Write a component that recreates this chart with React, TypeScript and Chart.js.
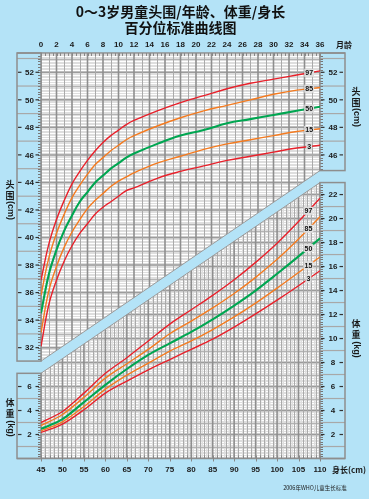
import React, { useEffect, useRef } from 'react';
import { Chart, registerables } from 'chart.js';

Chart.register(...registerables);

const TITLE_LINES = ['0～3岁男童头围/年龄、体重/身长', '百分位标准曲线图'];
const PERCENTILES = ['97', '85', '50', '15', '3'];

// Head circumference (cm) by age (months)
const AGE_MONTHS = [0, 1, 2, 3, 4, 5, 6, 7, 8, 9, 10, 11, 12, 15, 18, 21, 24, 27, 30, 33, 36];
const HC_P97 = [36.9, 39.5, 41.3, 42.7, 43.9, 44.8, 45.6, 46.3, 46.9, 47.4, 47.8, 48.2, 48.5, 49.2, 49.8, 50.3, 50.8, 51.2, 51.5, 51.8, 52.1];
const HC_P85 = [35.8, 38.5, 40.3, 41.7, 42.9, 43.8, 44.6, 45.3, 45.8, 46.3, 46.7, 47.1, 47.4, 48.1, 48.7, 49.2, 49.6, 50.0, 50.4, 50.7, 50.9];
const HC_P50 = [34.5, 37.3, 39.1, 40.5, 41.6, 42.6, 43.3, 44.0, 44.5, 45.0, 45.4, 45.8, 46.1, 46.8, 47.4, 47.8, 48.3, 48.6, 48.9, 49.2, 49.5];
const HC_P15 = [33.1, 36.1, 37.9, 39.3, 40.4, 41.3, 42.1, 42.7, 43.2, 43.7, 44.1, 44.4, 44.7, 45.4, 45.9, 46.4, 46.8, 47.1, 47.4, 47.7, 47.9];
const HC_P3 = [32.1, 35.1, 36.9, 38.3, 39.4, 40.3, 41.0, 41.7, 42.2, 42.6, 43.0, 43.4, 43.6, 44.3, 44.8, 45.2, 45.6, 45.9, 46.2, 46.5, 46.7];

// Weight (kg) by length (cm)
const LENGTH_CM = [45, 50, 55, 60, 65, 70, 75, 80, 85, 90, 95, 100, 105, 110];
const WL_P97 = [3.0, 3.92, 5.45, 7.1, 8.4, 9.8, 11.2, 12.4, 13.6, 14.9, 16.35, 17.95, 19.75, 21.7];
const WL_P85 = [2.75, 3.67, 5.1, 6.7, 7.9, 9.1, 10.4, 11.45, 12.55, 13.75, 15.1, 16.6, 18.3, 20.15];
const WL_P50 = [2.47, 3.28, 4.7, 6.14, 7.46, 8.64, 9.6, 10.55, 11.6, 12.75, 14.0, 15.4, 16.85, 18.35];
const WL_P15 = [2.3, 3.06, 4.33, 5.78, 6.95, 7.95, 8.95, 9.8, 10.75, 11.8, 12.95, 14.2, 15.5, 16.8];
const WL_P3 = [2.17, 2.87, 4.06, 5.45, 6.45, 7.39, 8.25, 9.1, 9.95, 10.95, 12.05, 13.2, 14.4, 15.65];

// Side tick labels
const HEAD_TICKS_LEFT = [32, 34, 36, 38, 40, 42, 44, 46, 48, 50, 52];
const HEAD_TICKS_RIGHT = [46, 48, 50, 52];
const WEIGHT_TICKS_LEFT = [2, 4, 6];
const WEIGHT_TICKS_RIGHT = [2, 4, 6, 8, 10, 12, 14, 16, 18, 20, 22];

// Separator band (kg on weight scale) at 45 cm and 110 cm
const BAND_LOW = [7.1, 23.0];
const BAND_HIGH = [8.12, 24.0];

// Label anchors
const HEAD_LABEL_AGE = 34.6;
const WEIGHT_LABEL_LEN = 107.3;

const PAGE_BG = '#b4e3f7';
const GRID_BG = '#dedede';
const FRAME = '#8e8e8e';
const RED = '#e8212b';
const ORANGE = '#f47b20';
const GREEN = '#00a651';
const NUM_FONT = '"Liberation Sans", Arial, sans-serif';
const CJK_FONT = '"Noto Sans CJK SC", sans-serif';

const HEAD_SERIES = [HC_P97, HC_P85, HC_P50, HC_P15, HC_P3];
const WEIGHT_SERIES = [WL_P97, WL_P85, WL_P50, WL_P15, WL_P3];
const SERIES_COLORS = [RED, ORANGE, GREEN, ORANGE, RED];
const SERIES_WIDTHS = [1.4, 1.4, 2.1, 1.4, 1.4];

function interp(xs: number[], ys: number[], x: number) {
  for (let i = 0; i < xs.length - 1; i++) {
    if (x >= xs[i] && x <= xs[i + 1]) {
      const t = (x - xs[i]) / (xs[i + 1] - xs[i]);
      return ys[i] + t * (ys[i + 1] - ys[i]);
    }
  }
  return ys[ys.length - 1];
}

function hline(ctx: CanvasRenderingContext2D, x1: number, x2: number, y: number) {
  ctx.beginPath();
  ctx.moveTo(x1, y);
  ctx.lineTo(x2, y);
  ctx.stroke();
}
function vline(ctx: CanvasRenderingContext2D, x: number, y1: number, y2: number) {
  ctx.beginPath();
  ctx.moveTo(x, y1);
  ctx.lineTo(x, y2);
  ctx.stroke();
}

function drawGrid(
  ctx: CanvasRenderingContext2D,
  a: any,
  xs: any,
  xFrom: number,
  xTo: number,
  xMajorEvery: number,
  ys: any,
  dashed: boolean
) {
  ctx.fillStyle = GRID_BG;
  ctx.fillRect(a.left, a.top, a.right - a.left, a.bottom - a.top);
  const yMin = ys.min;
  const yMax = ys.max;
  // fine white lines every 0.2 unit
  ctx.strokeStyle = '#ffffff';
  ctx.lineWidth = 1;
  if (dashed) ctx.setLineDash([3, 1.5]);
  for (let i = Math.ceil(yMin * 5); i <= Math.floor(yMax * 5); i++) {
    if (i % 5 === 0) continue;
    const y = Math.round(ys.getPixelForValue(i / 5)) + 0.5;
    hline(ctx, a.left, a.right, y);
  }
  ctx.setLineDash([]);
  // horizontal lines
  for (let v = Math.ceil(yMin); v <= Math.floor(yMax); v++) {
    const y = ys.getPixelForValue(v);
    const major = v % 2 === 0;
    ctx.strokeStyle = major ? '#9c9c9c' : '#b4b4b4';
    ctx.lineWidth = major ? 1.5 : 1;
    hline(ctx, a.left, a.right, major ? y : Math.round(y) + 0.5);
  }
  // vertical lines
  for (let v = xFrom; v <= xTo; v += 1) {
    const x = xs.getPixelForValue(v);
    const major = v % xMajorEvery === 0;
    ctx.strokeStyle = major ? '#8e8e8e' : '#aaaaaa';
    ctx.lineWidth = major ? 1.6 : 1;
    vline(ctx, major ? x : Math.round(x) + 0.5, a.top, a.bottom);
  }
}

const backgroundPlugin = {
  id: 'growthBackground',
  beforeDraw(chart: any) {
    const { ctx, chartArea: a, scales } = chart;
    const xM = scales.xM;
    const xL = scales.xL;
    const yH = scales.yH;
    const yW = scales.yW;
    ctx.save();
    ctx.fillStyle = PAGE_BG;
    ctx.fillRect(0, 0, chart.width, chart.height);

    const highL = yW.getPixelForValue(BAND_HIGH[0]);
    const highR = yW.getPixelForValue(BAND_HIGH[1]);
    const lowL = yW.getPixelForValue(BAND_LOW[0]);
    const lowR = yW.getPixelForValue(BAND_LOW[1]);

    // upper (head circumference) region
    ctx.save();
    ctx.beginPath();
    ctx.moveTo(a.left, a.top);
    ctx.lineTo(a.right, a.top);
    ctx.lineTo(a.right, highR);
    ctx.lineTo(a.left, highL);
    ctx.closePath();
    ctx.clip();
    drawGrid(ctx, a, xM, 0, 36, 2, yH, false);
    ctx.restore();

    // lower (weight) region
    ctx.save();
    ctx.beginPath();
    ctx.moveTo(a.left, lowL);
    ctx.lineTo(a.right, lowR);
    ctx.lineTo(a.right, a.bottom);
    ctx.lineTo(a.left, a.bottom);
    ctx.closePath();
    ctx.clip();
    drawGrid(ctx, a, xL, 45, 110, 5, yW, true);
    ctx.restore();

    // band edges
    ctx.strokeStyle = '#9a9a9a';
    ctx.lineWidth = 1;
    ctx.beginPath();
    ctx.moveTo(a.left, highL);
    ctx.lineTo(a.right, highR);
    ctx.moveTo(a.left, lowL);
    ctx.lineTo(a.right, lowR);
    ctx.stroke();

    // side boxes
    const LB = [17, a.left];
    const RB = [a.right, 345];
    const boxes = [
      { x1: LB[0], x2: LB[1], y1: a.top, y2: highL, s: yH, ticks: HEAD_TICKS_LEFT, rulerX: a.left - 3 },
      { x1: LB[0], x2: LB[1], y1: lowL, y2: a.bottom, s: yW, ticks: WEIGHT_TICKS_LEFT, rulerX: a.left - 3 },
      { x1: RB[0], x2: RB[1], y1: a.top, y2: highR, s: yH, ticks: HEAD_TICKS_RIGHT, rulerX: a.right },
      { x1: RB[0], x2: RB[1], y1: lowR, y2: a.bottom, s: yW, ticks: WEIGHT_TICKS_RIGHT, rulerX: a.right },
    ];
    for (const b of boxes) {
      ctx.strokeStyle = '#a8a8a8';
      ctx.lineWidth = 1.2;
      for (let v = Math.ceil(b.s.min); v <= Math.floor(b.s.max); v++) {
        if (v % 2 === 0) continue;
        const y = b.s.getPixelForValue(v);
        if (y < b.y1 + 3 || y > b.y2 - 3) continue;
        hline(ctx, b.x1, b.x2, y);
      }
      ctx.strokeStyle = '#777';
      ctx.lineWidth = 1;
      for (let i = Math.ceil(b.s.min * 5); i <= Math.floor(b.s.max * 5); i++) {
        const y = Math.round(b.s.getPixelForValue(i / 5)) + 0.5;
        if (y < b.y1 + 1 || y > b.y2 - 1) continue;
        hline(ctx, b.rulerX, b.rulerX + 3, y);
      }
      ctx.strokeStyle = FRAME;
      ctx.lineWidth = 1.5;
      ctx.strokeRect(b.x1, b.y1, b.x2 - b.x1, b.y2 - b.y1);
      const cx = (b.x1 + b.x2) / 2;
      ctx.font = `bold 8px ${NUM_FONT}`;
      ctx.fillStyle = '#1a1a1a';
      ctx.textAlign = 'center';
      ctx.textBaseline = 'middle';
      for (const t of b.ticks) {
        const y = b.s.getPixelForValue(t);
        ctx.fillText(String(t), cx + 0.5, y + 0.5);
        ctx.strokeStyle = '#333';
        ctx.lineWidth = 1.2;
        hline(ctx, b.x1 + 1, b.x1 + 4.5, y);
        hline(ctx, b.x2 - 5.5, b.x2 - 2, y);
      }
    }

    // outer plot edges
    ctx.strokeStyle = FRAME;
    ctx.lineWidth = 1.5;
    hline(ctx, a.left - 24, a.right + 25, a.top);
    hline(ctx, a.left - 24, a.right + 25, a.bottom);
    ctx.strokeStyle = '#888';
    ctx.lineWidth = 1;
    for (let m = 0; m <= 72; m++) {
      const x = Math.round(xM.getPixelForValue(m / 2)) + 0.5;
      vline(ctx, x, a.top, a.top + 3);
    }
    for (let l = 45; l <= 110; l++) {
      const x = Math.round(xL.getPixelForValue(l)) + 0.5;
      vline(ctx, x, a.bottom - 3, a.bottom + (l % 5 === 0 ? 3 : 0));
    }

    // vertical axis titles
    const vtitle = (x: number, y: number, c1: string, c2: string, unit: string) => {
      ctx.fillStyle = '#1a1a1a';
      ctx.font = `bold 9px ${CJK_FONT}`;
      ctx.textAlign = 'center';
      ctx.textBaseline = 'middle';
      ctx.fillText(c1, x, y);
      ctx.fillText(c2, x, y + 10.5);
      ctx.save();
      ctx.translate(x, y + 25.5);
      ctx.rotate(Math.PI / 2);
      ctx.font = `bold 9px ${NUM_FONT}`;
      ctx.fillText(unit, 0, 0);
      ctx.restore();
    };
    vtitle(10, 185, '头', '围', '(cm)');
    vtitle(10, 403, '体', '重', '(kg)');
    vtitle(356, 92, '头', '围', '(cm)');
    vtitle(356, 324, '体', '重', '(kg)');

    ctx.fillStyle = '#1a1a1a';
    ctx.textBaseline = 'middle';
    ctx.textAlign = 'left';
    ctx.font = `bold 8px ${CJK_FONT}`;
    ctx.fillText('月龄', a.right + 16, xM.bottom - 8);
    ctx.fillText('身长(cm)', a.right + 12, xL.top + 11.5);
    ctx.font = `5.5px ${CJK_FONT}`;
    ctx.textAlign = 'center';
    ctx.fillText('2006年WHO儿童生长标准', 315, 488);
    ctx.restore();
  },
  afterDatasetsDraw(chart: any) {
    const { ctx, scales } = chart;
    ctx.save();
    ctx.font = `bold 7px ${NUM_FONT}`;
    ctx.textAlign = 'center';
    ctx.textBaseline = 'middle';
    const draw = (x: number, y: number, txt: string) => {
      const w = ctx.measureText(txt).width + 2;
      ctx.fillStyle = GRID_BG;
      ctx.fillRect(x - w / 2, y - 4, w, 8);
      ctx.fillStyle = '#111';
      ctx.fillText(txt, x, y + 0.5);
    };
    PERCENTILES.forEach((p, i) => {
      draw(
        scales.xM.getPixelForValue(HEAD_LABEL_AGE),
        scales.yH.getPixelForValue(interp(AGE_MONTHS, HEAD_SERIES[i], HEAD_LABEL_AGE)),
        p
      );
      draw(
        scales.xL.getPixelForValue(WEIGHT_LABEL_LEN),
        scales.yW.getPixelForValue(interp(LENGTH_CM, WEIGHT_SERIES[i], WEIGHT_LABEL_LEN)),
        p
      );
    });
    ctx.restore();
  },
};

export default function App() {
  const ref = useRef<HTMLCanvasElement | null>(null);
  useEffect(() => {
    if (!ref.current) return;
    const datasets: any[] = [];
    PERCENTILES.forEach((p, i) => {
      datasets.push({
        label: `头围 P${p}`,
        data: AGE_MONTHS.map((m, j) => ({ x: m, y: HEAD_SERIES[i][j] })),
        xAxisID: 'xM',
        yAxisID: 'yH',
        borderColor: SERIES_COLORS[i],
        borderWidth: SERIES_WIDTHS[i],
        pointRadius: 0,
        fill: false,
        tension: 0.4,
      });
    });
    PERCENTILES.forEach((p, i) => {
      datasets.push({
        label: `体重 P${p}`,
        data: LENGTH_CM.map((l, j) => ({ x: l, y: WEIGHT_SERIES[i][j] })),
        xAxisID: 'xL',
        yAxisID: 'yW',
        borderColor: SERIES_COLORS[i],
        borderWidth: SERIES_WIDTHS[i],
        pointRadius: 0,
        fill: false,
        cubicInterpolationMode: 'monotone',
      });
    });
    const tickFont = { size: 8, weight: 'bold' as const, family: NUM_FONT };
    const chart = new Chart(ref.current, {
      type: 'line',
      data: { datasets },
      options: {
        responsive: false,
        animation: false,
        devicePixelRatio: 1,
        layout: { padding: { left: 41, right: 49, top: 0, bottom: 22.5 } },
        plugins: {
          legend: { display: false },
          tooltip: { enabled: false },
          title: {
            display: true,
            text: TITLE_LINES,
            color: '#111',
            font: { size: 14, weight: 'bold', family: CJK_FONT, lineHeight: 1.15 },
            padding: { top: 4, bottom: 0.8 },
          },
        },
        scales: {
          xM: {
            type: 'linear',
            position: 'top',
            min: 0,
            max: 36,
            ticks: { stepSize: 2, font: tickFont, color: '#1a1a1a', padding: 3.2, maxRotation: 0, autoSkip: false },
            grid: { display: false, drawTicks: false },
            border: { display: false },
            afterFit: (s: any) => {
              s.height = 16;
            },
          },
          xL: {
            type: 'linear',
            position: 'bottom',
            min: 45,
            max: 110,
            ticks: { stepSize: 5, font: tickFont, color: '#1a1a1a', padding: 6.7, maxRotation: 0, autoSkip: false },
            grid: { display: false, drawTicks: false },
            border: { display: false },
            afterFit: (s: any) => {
              s.height = 18;
            },
          },
          yH: { type: 'linear', position: 'left', display: false, min: 23.95, max: 53.4 },
          yW: { type: 'linear', position: 'right', display: false, min: 0, max: 33.8 },
        },
      } as any,
      plugins: [backgroundPlugin],
    });
    return () => chart.destroy();
  }, []);
  return (
    <div style={{ position: 'absolute', left: 0, top: 0, width: 369, height: 499, background: PAGE_BG }}>
      <canvas ref={ref} width={369} height={499} />
    </div>
  );
}
